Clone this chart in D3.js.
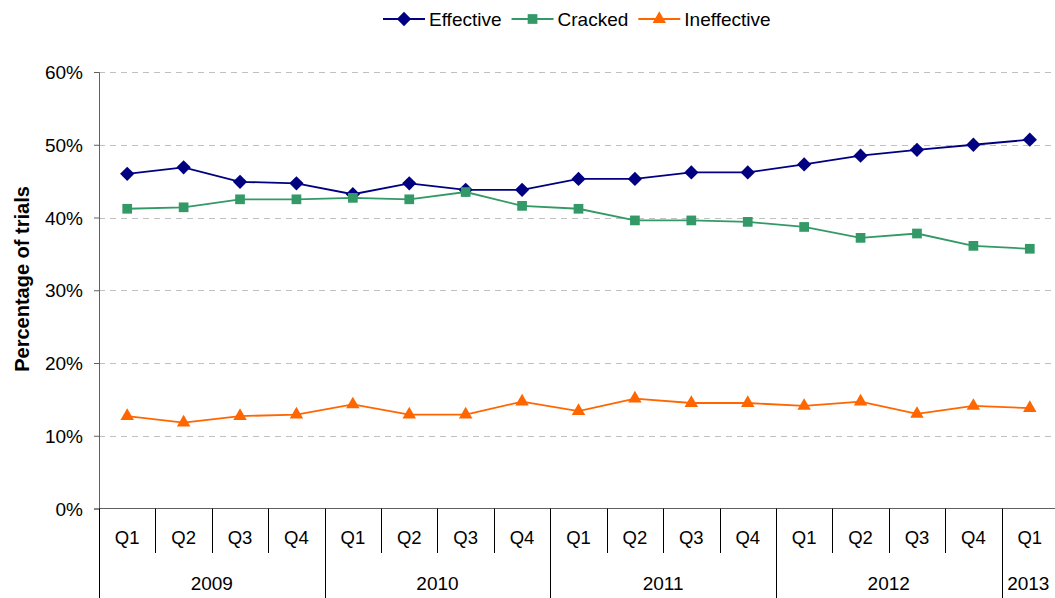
<!DOCTYPE html>
<html lang="en">
<head>
<meta charset="UTF-8">
<title>Trial outcomes by quarter</title>
<script src="https://cdn.jsdelivr.net/npm/d3@7"></script>
<style>
  body { margin: 0; background: #fff; }
  svg text { font-family: Arial, "Liberation Sans", sans-serif; fill: #000; }
</style>
</head>
<body>
<svg id="chart" width="1055" height="598"></svg>
<script>
// data
var quarters = ["Q1", "Q2", "Q3", "Q4", "Q1", "Q2", "Q3", "Q4", "Q1", "Q2", "Q3", "Q4", "Q1", "Q2", "Q3", "Q4", "Q1"];
var years = ["2009", "2009", "2009", "2009", "2010", "2010", "2010", "2010", "2011", "2011", "2011", "2011", "2012", "2012", "2012", "2012", "2013"];
var effective = [46.0, 46.9, 44.9, 44.7, 43.2, 44.7, 43.8, 43.8, 45.3, 45.3, 46.2, 46.2, 47.3, 48.5, 49.3, 50.0, 50.7];
var cracked = [41.2, 41.4, 42.5, 42.5, 42.7, 42.5, 43.5, 41.6, 41.2, 39.6, 39.6, 39.4, 38.7, 37.2, 37.8, 36.1, 35.7];
var ineffective = [12.7, 11.8, 12.7, 12.9, 14.3, 12.9, 12.9, 14.7, 13.4, 15.1, 14.5, 14.5, 14.1, 14.7, 13.0, 14.1, 13.8];
var yTicks = [0, 10, 20, 30, 40, 50, 60];

(function () {
  var series = [
    { name: "Effective", values: effective, color: "#000080", marker: d3.symbolDiamond2, size: 130 },
    { name: "Cracked", values: cracked, color: "#339966", marker: d3.symbolSquare2, size: 120 },
    { name: "Ineffective", values: ineffective, color: "#FF6600", marker: d3.symbolTriangle2, size: 130 }
  ];

  var svg = d3.select("#chart");
  var plotL = 99, plotR = 1058, plotT = 72, plotB = 508.5;
  var idx = d3.range(quarters.length);

  var x = d3.scaleBand().domain(idx).range([plotL, plotR]);
  var y = d3.scaleLinear().domain([0, 60]).range([plotB, plotT]);
  var cx = function (i) { return x(i) + x.bandwidth() / 2; };

  // dashed gridlines
  svg.append("g").selectAll("line")
    .data(yTicks.filter(function (d) { return d > 0; }))
    .enter().append("line")
    .attr("x1", plotL).attr("x2", plotR)
    .attr("y1", function (d) { return Math.round(y(d)) + 0.5; })
    .attr("y2", function (d) { return Math.round(y(d)) + 0.5; })
    .attr("stroke", "#c0c0c0")
    .attr("stroke-width", 1)
    .attr("stroke-dasharray", "6,5");

  // y axis
  var yAxis = svg.append("g")
    .attr("transform", "translate(" + plotL + ",0)")
    .call(d3.axisLeft(y).tickValues(yTicks).tickSize(5).tickPadding(11)
      .tickFormat(function (d) { return d + "%"; }));
  yAxis.select(".domain").attr("stroke", "#606060");
  yAxis.selectAll(".tick line").attr("stroke", "#606060");
  yAxis.selectAll("text").style("font-size", "19px").attr("dy", "0.35em");

  // x axis line
  svg.append("line")
    .attr("x1", plotL).attr("x2", plotR)
    .attr("y1", plotB).attr("y2", plotB)
    .attr("stroke", "#606060");

  // category separators: short between quarters, long between years
  svg.append("g").selectAll("line")
    .data(idx)
    .enter().append("line")
    .attr("x1", function (i) { return Math.round(x(i)) + 0.5; })
    .attr("x2", function (i) { return Math.round(x(i)) + 0.5; })
    .attr("y1", plotB)
    .attr("y2", function (i) { return (i === 0 || years[i] !== years[i - 1]) ? 598 : 553; })
    .attr("stroke", "#000")
    .attr("stroke-width", 1);

  // quarter labels
  svg.append("g").selectAll("text")
    .data(idx)
    .enter().append("text")
    .attr("x", cx)
    .attr("y", 538)
    .attr("dy", "0.35em")
    .attr("text-anchor", "middle")
    .style("font-size", "18.5px")
    .text(function (i) { return quarters[i]; });

  // year labels centred under their quarters
  var yearGroups = d3.groups(idx, function (i) { return years[i]; });
  svg.append("g").selectAll("text")
    .data(yearGroups)
    .enter().append("text")
    .attr("x", function (g) {
      var a = x(g[1][0]), b = x(g[1][g[1].length - 1]) + x.bandwidth();
      return (a + Math.min(b, 1055)) / 2;
    })
    .attr("y", 583)
    .attr("dy", "0.35em")
    .attr("text-anchor", "middle")
    .style("font-size", "19px")
    .text(function (g) { return g[0]; });

  // y axis title
  svg.append("text")
    .attr("transform", "translate(22,279) rotate(-90)")
    .attr("text-anchor", "middle")
    .attr("dy", "0.35em")
    .style("font-size", "20px")
    .style("font-weight", "bold")
    .text("Percentage of trials");

  // lines and markers
  var line = d3.line()
    .x(function (d, i) { return cx(i); })
    .y(function (d) { return y(d); });

  series.forEach(function (s) {
    svg.append("path")
      .datum(s.values)
      .attr("fill", "none")
      .attr("stroke", s.color)
      .attr("stroke-width", 1.8)
      .attr("d", line);
    svg.append("g").selectAll("path")
      .data(s.values)
      .enter().append("path")
      .attr("transform", function (d, i) {
        return "translate(" + cx(i) + "," + y(d) + ")";
      })
      .attr("d", d3.symbol().type(s.marker).size(s.size))
      .attr("fill", s.color);
  });

  // legend
  var legend = svg.append("g");
  var lx = 383;
  series.forEach(function (s) {
    var g = legend.append("g").attr("transform", "translate(" + lx + ",19)");
    g.append("line").attr("x1", 0).attr("x2", 42).attr("y1", 0).attr("y2", 0)
      .attr("stroke", s.color).attr("stroke-width", 1.8);
    g.append("path").attr("transform", "translate(21,0)")
      .attr("d", d3.symbol().type(s.marker).size(s.size)).attr("fill", s.color);
    var t = g.append("text").attr("x", 46).attr("dy", "0.35em")
      .style("font-size", "19px").text(s.name);
    lx += 46 + t.node().getComputedTextLength() + 10;
  });
})();
</script>
</body>
</html>
